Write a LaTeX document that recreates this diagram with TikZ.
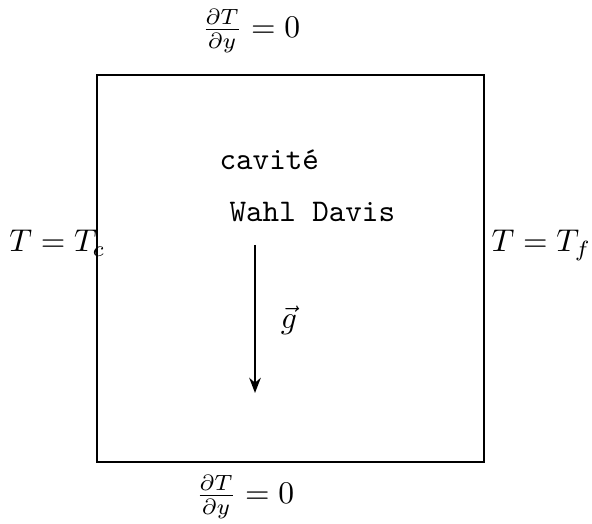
\documentclass[tikz,border=0pt]{standalone}
\usetikzlibrary{arrows.meta}
\begin{document}
\begin{tikzpicture}[x=0.33pt,y=-0.33pt,
  lbl/.style={inner sep=0pt,scale=1.04},
  wall/.style={line width=0.8pt},
  grav/.style={line width=0.75pt,-{Stealth[length=5pt,width=3.8pt]}}]
\useasboundingbox (0,0) rectangle (592,524);
\node[lbl,anchor=base east] (left) at (106,252) {$T=T_c$};
\node[lbl,anchor=base west] (right) at (491,252) {$T=T_f$};
\node[lbl] (top) at (251,31) {$\frac{\partial T}{\partial y}=0$};
\node[lbl] (bot) at (245,497) {$\frac{\partial T}{\partial y}=0$};
\node[lbl,anchor=base west] (cav) at (219,170) {\ttfamily cavit\'e};
\node[lbl,anchor=base west] (wd) at (229,222) {\ttfamily Wahl Davis};
\coordinate (g1) at (255,245);
\coordinate (g2) at (255,393);
\draw[grav] (g1) -- (g2);
\node[lbl] (g) at (289,320) {$\vec{g}$};
\draw[wall] (97,75) rectangle (484,462);
\end{tikzpicture}
\end{document}
